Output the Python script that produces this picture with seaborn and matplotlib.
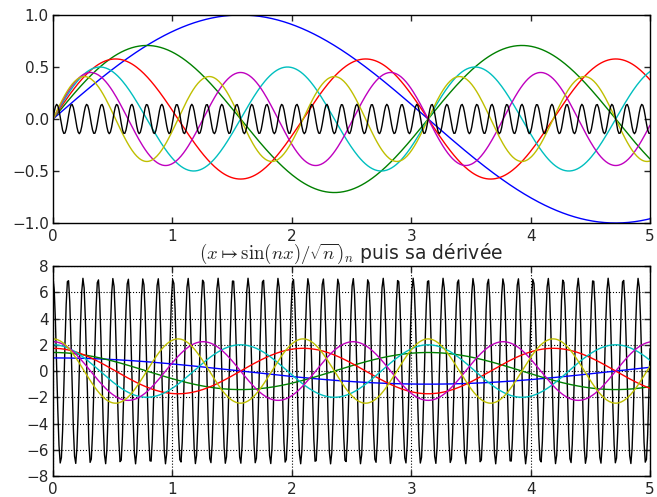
import numpy as np
import seaborn as sns
import matplotlib.pyplot as plt

# Values of n for each curve and their colours (classic b g r c m y k)
n_values = [1, 2, 3, 4, 5, 6, 50]
line_colors = [(0, 0, 1), (0, 0.5, 0), (1, 0, 0), (0, 0.75, 0.75),
               (0.75, 0, 0.75), (0.75, 0.75, 0), (0, 0, 0)]
x_ticks = [0, 1, 2, 3, 4, 5]
top_yticks = [-1.0, -0.5, 0.0, 0.5, 1.0]
bottom_yticks = [-8, -6, -4, -2, 0, 2, 4, 6, 8]
title_bottom = r'$(x \mapsto \sin(nx)/\sqrt{n})_n$ puis sa dérivée'

sns.set_style("ticks")
plt.rcParams['font.family'] = ['DejaVu Sans']
plt.rcParams['mathtext.fontset'] = 'cm'
plt.rcParams['xtick.direction'] = 'in'
plt.rcParams['ytick.direction'] = 'in'
plt.rcParams['xtick.top'] = True
plt.rcParams['ytick.right'] = True
plt.rcParams['xtick.major.size'] = 4
plt.rcParams['ytick.major.size'] = 4
plt.rcParams['axes.edgecolor'] = 'black'
plt.rcParams['axes.linewidth'] = 1.0

x = np.linspace(0, 5, 500)

fig = plt.figure(figsize=(6.57, 4.97), dpi=100)
ax1 = fig.add_axes([0.0807, 0.5513, 0.9087, 0.4185])
ax2 = fig.add_axes([0.0807, 0.0422, 0.9087, 0.4225])

# Top: the functions
for n, c in zip(n_values, line_colors):
    sns.lineplot(x=x, y=np.sin(n * x) / np.sqrt(n), ax=ax1, color=c, linewidth=1.0)

# Bottom: their derivatives (black drawn underneath)
for n, c in zip(n_values, line_colors):
    sns.lineplot(x=x, y=np.sqrt(n) * np.cos(n * x), ax=ax2, color=c, linewidth=1.0,
                 zorder=1 if n == 50 else 2)

ax1.set_xlim(0, 5)
ax1.set_ylim(-1, 1)
ax1.set_xticks(x_ticks)
ax1.set_yticks(top_yticks)

ax2.set_xlim(0, 5)
ax2.set_ylim(-8, 8)
ax2.set_xticks(x_ticks)
ax2.set_yticks(bottom_yticks)
ax2.grid(True, color='black', linestyle=':', linewidth=0.8)
ax2.set_title(title_bottom, fontsize=13.5, pad=1)

for ax in (ax1, ax2):
    ax.tick_params(labelsize=11, width=1)
    ax.tick_params(axis='x', pad=4)
    ax.tick_params(axis='y', pad=3)
    for s in ax.spines.values():
        s.set_visible(True)
        s.set_color('black')

fig.savefig('out.png', dpi=100, facecolor='white')
